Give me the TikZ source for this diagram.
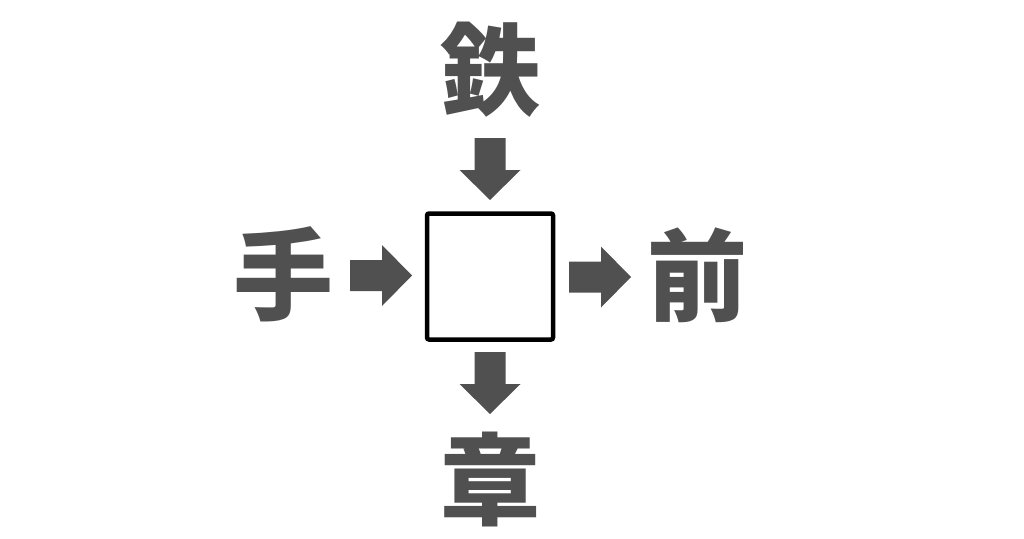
\documentclass[tikz,border=0pt]{standalone}
\usepackage{fontspec}
\newfontfamily\cjk{Noto Sans CJK JP}
\definecolor{ink}{HTML}{505050}
\tikzset{
  kanji/.style={font=\cjk\bfseries\fontsize{100}{100}\selectfont, text=ink, inner sep=0pt},
  blank/.style={draw=black, line width=4.5pt, minimum size=126pt, rounded corners=2pt, inner sep=0pt},
  blockarrow/.pic={\fill[ink] (0,-15.5) -- (32,-15.5) -- (32,-30.5) -- (62,0) -- (32,30.5) -- (32,15.5) -- (0,15.5) -- cycle;}
}
\begin{document}
\begin{tikzpicture}[x=1pt,y=-1pt]
  \useasboundingbox (0,0) rectangle (1024,538);
  % the empty square in the middle
  \node[blank] (box) at (490,276.5) {};
  % the four words around it
  \node[kanji] (top) at (490,70) {鉄};
  \node[kanji] (left) at (283,274) {手};
  \node[kanji] (right) at (697,275) {前};
  \node[kanji] (bottom) at (490,479) {章};
  % block arrows pointing through the square
  \pic[rotate=-90] at (490,138) {blockarrow};
  \pic at (350,275.5) {blockarrow};
  \pic at (569,277) {blockarrow};
  \pic[rotate=-90] at (490,352) {blockarrow};
\end{tikzpicture}
\end{document}
